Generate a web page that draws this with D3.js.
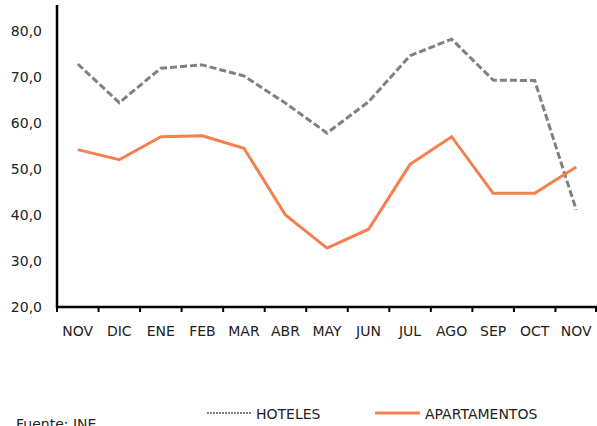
<!DOCTYPE html>
<html><head><meta charset="utf-8">
<script src="https://cdn.jsdelivr.net/npm/d3@7"></script>
<style>body{margin:0;background:#fff}svg{display:block}text{font-family:"DejaVu Sans",Verdana,sans-serif;fill:#222}</style>
</head><body><svg id="c" width="597" height="426"></svg>
<script>
const months = ["NOV","DIC","ENE","FEB","MAR","ABR","MAY","JUN","JUL","AGO","SEP","OCT","NOV"];
const hoteles = [72.8,64.4,71.9,72.6,70.2,64.3,57.8,64.6,74.6,78.2,69.3,69.2,41.1];
const apartamentos = [54.2,52.0,57.0,57.2,54.5,40.0,32.8,36.9,51.0,57.0,44.7,44.7,50.4];
const yTicks = [20,30,40,50,60,70,80];

(function(){
const svg = d3.select("#c");
const mL = 57, mR = 597, mT = 6, mB = 307;
const x = d3.scaleBand().domain(d3.range(months.length)).range([mL, mR]).padding(0);
const y = d3.scaleLinear().domain([20, 85.4]).range([mB, mT]);
const cx = i => x(i) + x.bandwidth()/2;

svg.append("g").selectAll("text").data(yTicks).join("text")
  .attr("x", 42).attr("y", d => y(d)).attr("dy", "0.35em")
  .attr("text-anchor","end").style("font-size","14px").text(d => d.toFixed(1).replace(".", ","));

svg.append("g").selectAll("line").data(d3.range(months.length+1)).join("line")
  .attr("x1", i => i < months.length ? x(i) : mR-1).attr("x2", i => i < months.length ? x(i) : mR-1)
  .attr("y1", mB).attr("y2", mB+5).attr("stroke","#000").attr("stroke-width",2);
svg.append("g").selectAll("text").data(months).join("text")
  .attr("x", (d,i) => cx(i)).attr("y", 336).attr("text-anchor","middle")
  .style("font-size","14px").text(d => d);

svg.append("line").attr("x1",mL).attr("x2",mL).attr("y1",mT-1).attr("y2",mB+1).attr("stroke","#000").attr("stroke-width",2.5);
svg.append("line").attr("x1",mL).attr("x2",mR).attr("y1",mB).attr("y2",mB).attr("stroke","#000").attr("stroke-width",2.5);

const line = d3.line().x((d,i) => cx(i)).y(d => y(d));
svg.append("path").datum(hoteles).attr("d", line).attr("fill","none")
  .attr("stroke","#7f7f85").attr("stroke-width",3).attr("stroke-dasharray","7,3");
svg.append("path").datum(apartamentos).attr("d", line).attr("fill","none")
  .attr("stroke","#f47f4f").attr("stroke-width",3);

const lg = svg.append("g");
lg.append("line").attr("x1",207).attr("x2",251).attr("y1",413).attr("y2",413)
  .attr("stroke","#7f7f85").attr("stroke-width",2).attr("stroke-dasharray","2,1");
lg.append("text").attr("x",256).attr("y",419).style("font-size","14px").text("HOTELES");
lg.append("line").attr("x1",375).attr("x2",420).attr("y1",413).attr("y2",413)
  .attr("stroke","#f47f4f").attr("stroke-width",3);
lg.append("text").attr("x",425).attr("y",419).style("font-size","14px").text("APARTAMENTOS");

svg.append("text").attr("x",16).attr("y",429).style("font-size","14px").text("Fuente: INE");
})();
</script></body></html>
